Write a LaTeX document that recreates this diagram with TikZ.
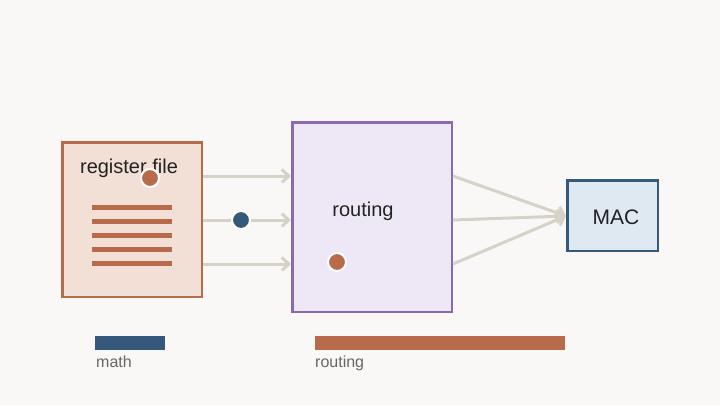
\documentclass[tikz,border=0pt]{standalone}
\usepackage{fontspec}
\setmainfont{Liberation Sans}
\usetikzlibrary{arrows.meta,positioning}
\definecolor{bgcol}{HTML}{F9F8F6}
\definecolor{rust}{HTML}{B86B4B}
\definecolor{rustfill}{HTML}{F2DFD5}
\definecolor{violet}{HTML}{8B68B0}
\definecolor{violetfill}{HTML}{EEE8F6}
\definecolor{navy}{HTML}{34597A}
\definecolor{navyfill}{HTML}{DEE9F2}
\definecolor{wire}{HTML}{D6D2C8}
\definecolor{legendtxt}{HTML}{666666}
\definecolor{ink}{HTML}{222222}

\begin{document}
\begin{tikzpicture}[
    x=1pt, y=-1pt,
    font=\fontsize{20}{23}\selectfont,
    unit/.style={draw, line width=2.5pt, inner sep=0pt, outer sep=0pt, anchor=north west},
    dot/.style={circle, draw=white, line width=2pt, minimum size=18pt, inner sep=0pt},
    arr/.style={draw=wire, line width=3pt, -{Straight Barb[length=7pt, width=13pt]}},
    bar/.style={inner sep=0pt, anchor=north west, minimum height=14pt},
    legend/.style={font=\fontsize{16}{19}\selectfont, text=legendtxt, anchor=north west, inner sep=0pt},
  ]
  \fill[bgcol] (0,0) rectangle (720,405);
  \useasboundingbox (0,0) rectangle (720,405);

  % blocks
  \node (rf) [unit, draw=rust, fill=rustfill, minimum width=139.5pt, minimum height=154.5pt] at (62.25,142.25) {};
  \node (rt) [unit, draw=violet, fill=violetfill, minimum width=159.5pt, minimum height=189.5pt] at (292.25,122.25) {};
  \node (mac) [unit, draw=navy, fill=navyfill, minimum width=90.5pt, minimum height=70.5pt] at (567.25,180.25) {};
  \node (rflabel) [text=ink] at (129,168) {register file};
  \node (rtlabel) [text=ink] at (363,211) {routing};
  \node (maclabel) [text=ink, font=\fontsize{21}{24}\selectfont] at (616,217) {MAC};

  % register rows
  \foreach \y in {207,221,235,249,263}
    \fill[rust] (92,\y-2.5) rectangle (172,\y+2.5);

  % ports
  \coordinate (rfa) at (203,176);
  \coordinate (rfb) at (203,220);
  \coordinate (rfc) at (203,264);
  \coordinate (rta) at (291,176);
  \coordinate (rtb) at (291,220);
  \coordinate (rtc) at (291,264);
  \coordinate (rtoa) at (453,176);
  \coordinate (rtob) at (453,220);
  \coordinate (rtoc) at (453,264);
  \coordinate (macin) at (566,216);

  \draw [arr] (rfa) -- (rta);
  \draw [arr] (rfb) -- (rtb);
  \draw [arr] (rfc) -- (rtc);
  \draw [arr] (rtoa) -- (macin);
  \draw [arr] (rtob) -- (macin);
  \draw [arr] (rtoc) -- (macin);

  % tokens
  \node (tok1) [dot, fill=rust] at (150,178) {};
  \node (tok2) [dot, fill=navy] at (241,220) {};
  \node (tok3) [dot, fill=rust] at (337,262) {};

  % legend
  \node (barmath) [bar, fill=navy, minimum width=70pt] at (95,336) {};
  \node (barrt) [bar, fill=rust, minimum width=250pt] at (315,336) {};
  \node (lgmath) [legend] at (96,356) {math};
  \node (lgrt) [legend] at (315,356) {routing};
\end{tikzpicture}
\end{document}
